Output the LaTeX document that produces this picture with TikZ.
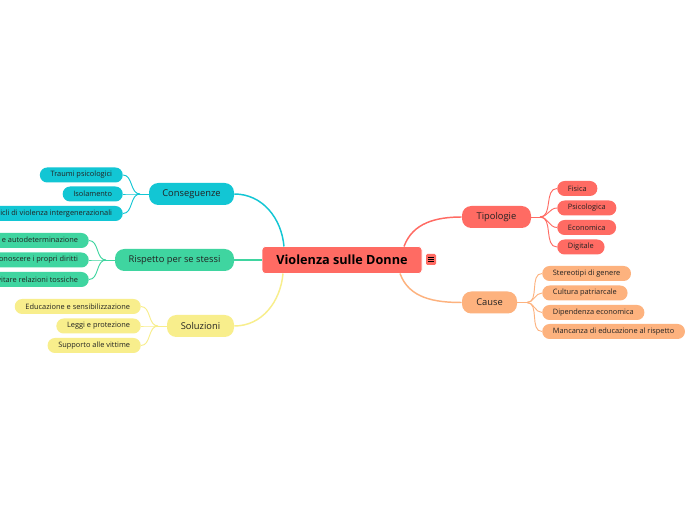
\documentclass[tikz,border=0pt]{standalone}
\usepackage{fontspec}
\setmainfont{Open Sans}
\definecolor{cred}{HTML}{FF6B63}
\definecolor{corange}{HTML}{FDB27E}
\definecolor{ccyan}{HTML}{12C6D4}
\definecolor{cgreen}{HTML}{3FD5A0}
\definecolor{cyellow}{HTML}{F8EE8C}
\definecolor{ctext}{HTML}{222222}
\tikzset{
  central/.style={fill=cred, draw=white, line width=0.6pt, rounded corners=2.5pt, minimum width=120pt, minimum height=20.25pt, font=\fontsize{9.5}{10}\selectfont\bfseries, text=black, inner sep=0pt},
  branch/.style={fill=#1, rounded corners=7pt, minimum height=16.5pt, font=\fontsize{7}{8}\selectfont, text=ctext, inner sep=0pt},
  leaf/.style={fill=#1, rounded corners=5.5pt, minimum height=11.25pt, font=\fontsize{5.55}{6}\selectfont, text=ctext, inner xsep=8pt, inner ysep=0pt},
  bline/.style={draw=#1, line width=1.1pt},
  lline/.style={draw=#1, line width=0.7pt},
}
\begin{document}
\begin{tikzpicture}[x=0.75pt,y=-0.75pt]
\fill[white] (0,0) rectangle (697,520);
\clip (0,0) rectangle (697,520);
% central
\node[central] (c) at (342,260) {Violenza sulle Donne};
\node[fill=cred, rounded corners=1pt, minimum width=7.5pt, minimum height=8.25pt, inner sep=0pt] (icon) at (431,259.5) {};
\draw[black, line width=0.5pt] ([xshift=-2pt,yshift=1.6pt]icon.center) -- ++(4pt,0) ([xshift=-2pt]icon.center) -- ++(4pt,0) ([xshift=-2pt,yshift=-1.6pt]icon.center) -- ++(4pt,0);

% branches
\node[branch=ccyan, minimum width=63.75pt] (cons) at (191.5,194) {Conseguenze};
\node[branch=cgreen, minimum width=89.25pt] (risp) at (174.5,260) {Rispetto per se stessi};
\node[branch=cyellow, minimum width=50.25pt] (sol) at (200.5,326) {Soluzioni};
\node[branch=cred, minimum width=51.75pt] (tip) at (496.5,217) {Tipologie};
\node[branch=corange, minimum width=41.25pt] (cau) at (489.5,302.5) {Cause};

\coordinate (cT1) at (284,246.5);
\coordinate (cT2) at (404,246.5);
\coordinate (cB1) at (283,273.5);
\coordinate (cB2) at (400,273.5);
\coordinate (cL) at (262,260);

\draw[bline=ccyan] (cons.east) to[out=0,in=95] (cT1);
\draw[bline=cgreen] (risp.east) -- (cL);
\draw[bline=cyellow] (sol.east) to[out=0,in=-95] (cB1);
\draw[bline=cred] (cT2) to[out=70,in=180] (tip.west);
\draw[bline=corange] (cB2) to[out=-70,in=180] (cau.west);

% leaves left
\node[leaf=ccyan, anchor=east] (c1) at (123,175) {Traumi psicologici};
\node[leaf=ccyan, anchor=east] (c2) at (123,194) {Isolamento};
\node[leaf=ccyan, anchor=east] (c3) at (123,213.5) {Cicli di violenza intergenerazionali};
\node[leaf=cgreen, anchor=east] (r1) at (89,240.5) {Indipendenza e autodeterminazione};
\node[leaf=cgreen, anchor=east] (r2) at (89,260) {Riconoscere i propri diritti};
\node[leaf=cgreen, anchor=east] (r3) at (89,279.5) {Evitare relazioni tossiche};
\node[leaf=cyellow, anchor=east] (s1) at (141,306.5) {Educazione e sensibilizzazione};
\node[leaf=cyellow, anchor=east] (s2) at (141,326) {Leggi e protezione};
\node[leaf=cyellow, anchor=east] (s3) at (141,345.5) {Supporto alle vittime};
% leaves right
\node[leaf=cred, anchor=west] (t1) at (557,188.5) {Fisica};
\node[leaf=cred, anchor=west] (t2) at (557,208) {Psicologica};
\node[leaf=cred, anchor=west] (t3) at (557,227.5) {Economica};
\node[leaf=cred, anchor=west] (t4) at (557,247) {Digitale};
\node[leaf=corange, anchor=west] (a1) at (542,273.5) {Stereotipi di genere};
\node[leaf=corange, anchor=west] (a2) at (542,293) {Cultura patriarcale};
\node[leaf=corange, anchor=west] (a3) at (542,312.5) {Dipendenza economica};
\node[leaf=corange, anchor=west] (a4) at (542,331.5) {Mancanza di educazione al rispetto};

% leaf connectors
\coordinate (jc) at (140,194);
\coordinate (jr) at (106,260);
\coordinate (js) at (158,326);
\coordinate (jt) at (540,217);
\coordinate (ja) at (527,302.5);
\draw[lline=ccyan] (cons.west) -- (jc);
\foreach \n in {c1,c2,c3}{\draw[lline=ccyan] (jc) to[out=180,in=0] (\n.east);}
\draw[lline=cgreen] (risp.west) -- (jr);
\foreach \n in {r1,r2,r3}{\draw[lline=cgreen] (jr) to[out=180,in=0] (\n.east);}
\draw[lline=cyellow] (sol.west) -- (js);
\foreach \n in {s1,s2,s3}{\draw[lline=cyellow] (js) to[out=180,in=0] (\n.east);}
\draw[lline=cred] (tip.east) -- (jt);
\foreach \n in {t1,t2,t3,t4}{\draw[lline=cred] (jt) to[out=0,in=180] (\n.west);}
\draw[lline=corange] (cau.east) -- (ja);
\foreach \n in {a1,a2,a3,a4}{\draw[lline=corange] (ja) to[out=0,in=180] (\n.west);}
\end{tikzpicture}
\end{document}
